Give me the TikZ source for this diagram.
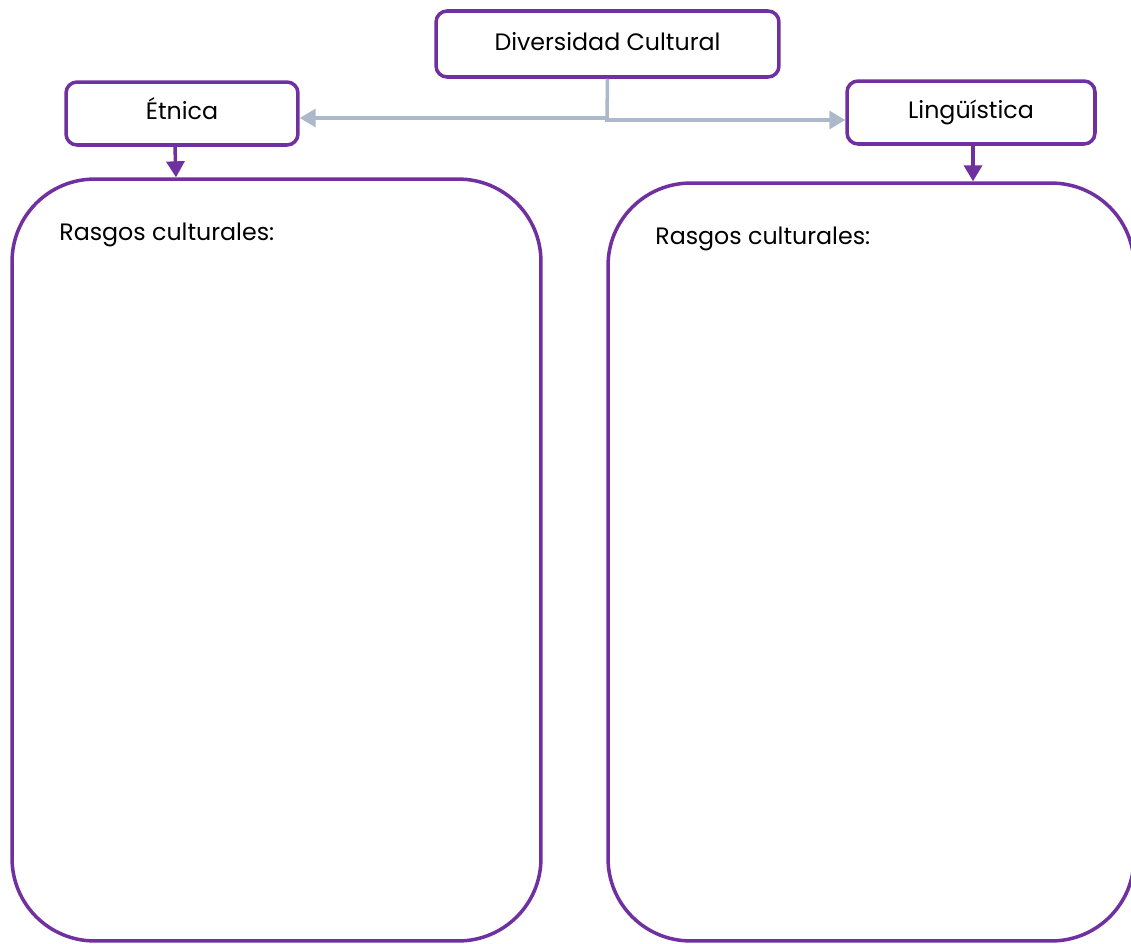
\documentclass[tikz,border=0pt]{standalone}
\usepackage{fontspec}
\setmainfont{Poppins}
\usetikzlibrary{arrows.meta}
\definecolor{morado}{HTML}{7030A0}
\definecolor{gris}{HTML}{ADB9CA}
\tikzset{
	caja/.style = {draw = morado, line width = 2pt, rounded corners = 0.22cm, inner sep = 0pt, text height = 0.75em, text depth = 0.05em, font = \fontsize{13.5}{16}\selectfont},
	marco/.style = {draw = morado, line width = 2pt, rounded corners = 1.65cm, inner sep = 0pt},
	rasgos/.style = {anchor = base west, inner sep = 0pt, font = \fontsize{13.5}{16}\selectfont},
	conector/.style = {gris, line width = 2pt, -{Triangle[length = 0.32cm, width = 0.36cm]}},
	flecha/.style = {morado, line width = 2pt, -{Triangle[length = 0.32cm, width = 0.36cm]}}
}
\begin{document}
\begin{tikzpicture}[x = 0.02cm, y = -0.02cm]
		\useasboundingbox (0,0) rectangle (1131,943);
		% cajas de arriba
		\node [caja, minimum width = 6.86cm, minimum height = 1.32cm] (div) at (607.5,44) {Diversidad Cultural};
		\node [caja, minimum width = 4.64cm, minimum height = 1.26cm] (etnica) at (182,113.5) {Étnica};
		\node [caja, minimum width = 4.96cm, minimum height = 1.26cm] (ling) at (971,112.5) {Lingüística};
		% marcos grandes
		\node [marco, minimum width = 10.58cm, minimum height = 15.24cm] (izq) at (276.5,560) {};
		\node [marco, minimum width = 10.52cm, minimum height = 15.16cm] (der) at (871,562) {};
		\node [rasgos] (rizq) at (59,240) {Rasgos culturales:};
		\node [rasgos] (rder) at (655,244) {Rasgos culturales:};
		% conectores
		\coordinate (junta) at (607,118);
		\draw [conector] (div.south) -- (junta) -- (junta -| etnica.east);
		\draw [conector] (junta) -- ++(0,2) -- (ling.west |- 0,120);
		\draw [flecha] (etnica.south -| 175,0) -- (izq.north -| 176,0);
		\draw [flecha] (ling.south -| 973,0) -- (der.north -| 973,0);
%		\draw [dashed] (0,0) rectangle (1131,943);
	\end{tikzpicture}
\end{document}
